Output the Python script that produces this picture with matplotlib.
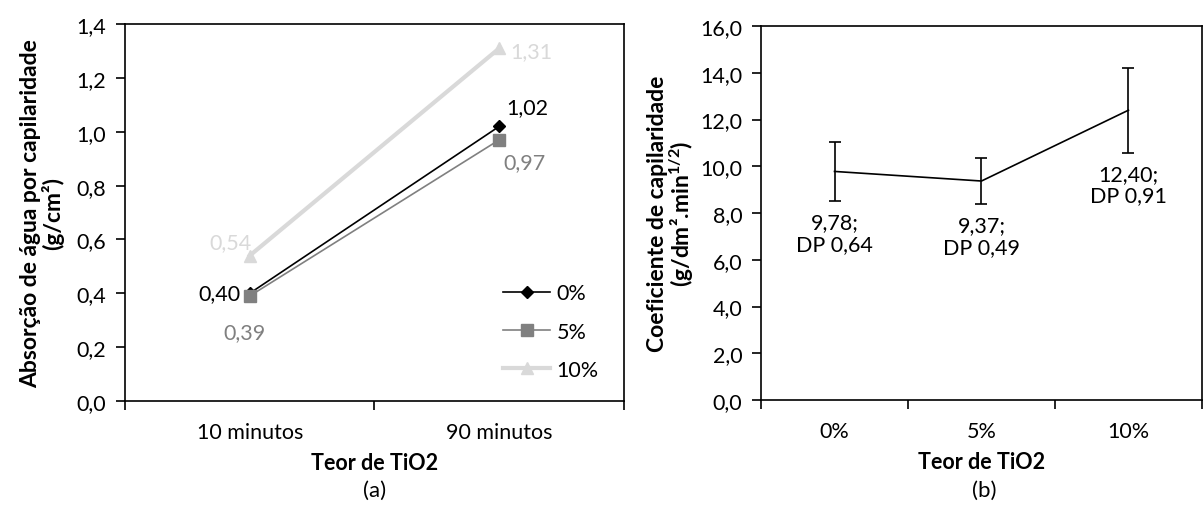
import matplotlib.pyplot as plt
from matplotlib.ticker import FuncFormatter

plt.rcParams['font.family'] = ['Lato', 'DejaVu Sans']
plt.rcParams['font.size'] = 15.5
plt.rcParams['mathtext.fontset'] = 'custom'
plt.rcParams['mathtext.rm'] = 'Lato'
plt.rcParams['mathtext.bf'] = 'Lato:bold'
plt.rcParams['mathtext.it'] = 'Lato:italic'

# (a) water absorption by capillarity
tempos = ['10 minutos', '90 minutos']
series_a = ['0%', '5%', '10%']
abs_0 = [0.40, 1.02]
abs_5 = [0.39, 0.97]
abs_10 = [0.54, 1.31]

# (b) capillarity coefficient
teores = ['0%', '5%', '10%']
coef = [9.78, 9.37, 12.40]
dp = [0.64, 0.49, 0.91]
barra_erro = [1.28, 0.98, 1.82]

def virgula(fmt):
    return FuncFormatter(lambda v, p: format(v, fmt).replace('.', ','))

fig = plt.figure(figsize=(12.03, 5.06), dpi=100)
ax1 = fig.add_axes([0.1039, 0.2055, 0.4148, 0.745])
ax2 = fig.add_axes([0.6326, 0.2075, 0.3665, 0.739])

# ---- panel (a)
x = [0, 1]
styles = {
    '0%': dict(color='black', marker='D', ms=6, lw=1.2),
    '5%': dict(color='#808080', marker='s', ms=8, lw=1.2),
    '10%': dict(color='#d9d9d9', marker='^', ms=8, lw=3),
}
vals = {'0%': abs_0, '5%': abs_5, '10%': abs_10}
for s in series_a:
    ax1.plot(x, vals[s], label=s, **styles[s])

# data labels (offsets in points)
offs = {
    '0%': [(-7, 0, 'right'), (20, 14, 'center')],
    '5%': [(-4, -26, 'center'), (18, -16, 'center')],
    '10%': [(-14, 10, 'center'), (8, -2, 'left')],
}
for s in series_a:
    for i, v in enumerate(vals[s]):
        dx, dy, ha = offs[s][i]
        ax1.annotate(format(v, '.2f').replace('.', ','), (x[i], v),
                     xytext=(dx, dy), textcoords='offset points',
                     ha=ha, va='center', color=styles[s]['color'])

ax1.set_xlim(-0.5, 1.5)
ax1.set_ylim(0, 1.4)
ax1.set_yticks([0, 0.2, 0.4, 0.6, 0.8, 1.0, 1.2, 1.4])
ax1.yaxis.set_major_formatter(virgula('.1f'))
ax1.set_xticks([-0.5, 0.5, 1.5])
ax1.set_xticklabels([])
ax1.set_xticks(x, minor=True)
ax1.set_xticklabels(tempos, minor=True)
ax1.tick_params(axis='x', which='minor', length=0, pad=15)
ax1.tick_params(axis='x', which='major', length=6.5, width=1.2)
ax1.tick_params(axis='y', length=6.5, width=1.2, pad=7)
ax1.set_xlabel('Teor de TiO2', fontweight='bold', labelpad=7)
ax1.set_ylabel('Absorção de água por capilaridade\n(g/cm²)', fontweight='bold',
               fontsize=16.5, linespacing=1.0, labelpad=9)
for sp in ax1.spines.values():
    sp.set_linewidth(1.2)
ax1.legend(loc='upper left', frameon=False, bbox_to_anchor=(0.74, 0.335),
           handlelength=2.2, labelspacing=0.85, handletextpad=0.3,
           borderaxespad=0)

# ---- panel (b)
xb = [0, 1, 2]
ax2.errorbar(xb, coef, yerr=barra_erro, color='black', lw=1.2,
             capsize=4, capthick=1.2, elinewidth=1.2)
for i, v in enumerate(coef):
    txt = format(v, '.2f').replace('.', ',') + ';\nDP ' + format(dp[i], '.2f').replace('.', ',')
    ax2.annotate(txt, (xb[i], v - barra_erro[i]), xytext=(0, -8),
                 textcoords='offset points', ha='center', va='top', linespacing=1.1)

ax2.set_xlim(-0.5, 2.5)
ax2.set_ylim(0, 16)
ax2.set_yticks(range(0, 17, 2))
ax2.yaxis.set_major_formatter(virgula('.1f'))
ax2.set_xticks([-0.5, 0.5, 1.5, 2.5])
ax2.set_xticklabels([])
ax2.set_xticks(xb, minor=True)
ax2.set_xticklabels(teores, minor=True)
ax2.tick_params(axis='x', which='minor', length=0, pad=15)
ax2.tick_params(axis='x', which='major', length=6.5, width=1.2)
ax2.tick_params(axis='y', length=6.5, width=1.2, pad=7)
ax2.set_xlabel('Teor de TiO2', fontweight='bold', labelpad=7)
ax2.set_ylabel('Coeficiente de capilaridade\n(g/dm².min$^{\\mathbf{1/2}}$)',
               fontweight='bold', fontsize=16.5, linespacing=1.0, labelpad=3)
for sp in ax2.spines.values():
    sp.set_linewidth(1.2)

fig.text(375 / 1203, 1 - 491 / 506, '(a)', ha='center', va='center', fontsize=16)
fig.text(984 / 1203, 1 - 491 / 506, '(b)', ha='center', va='center', fontsize=16)

fig.savefig('out.png', dpi=100)
